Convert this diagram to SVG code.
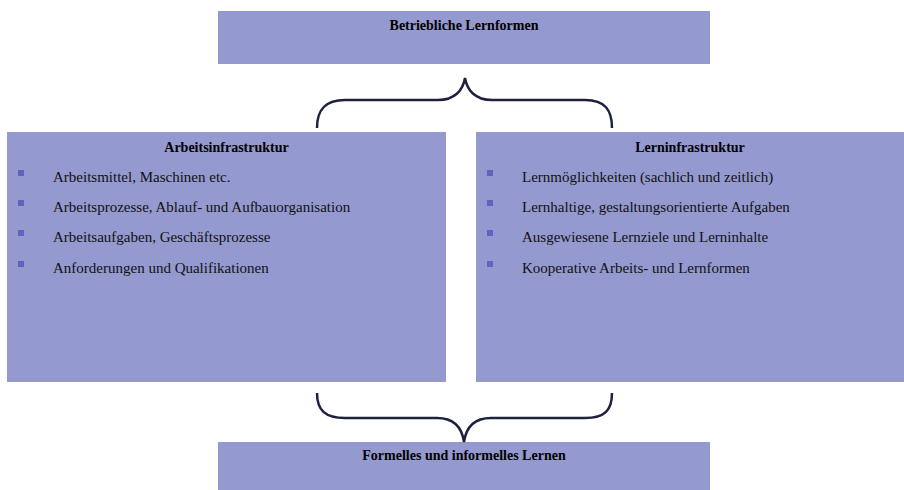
<svg xmlns="http://www.w3.org/2000/svg" width="904" height="490" viewBox="0 0 904 490">
<style>
.box{fill:#9499CF}
.title{font-family:"Liberation Serif",serif;font-weight:bold;font-size:14px;fill:#000;text-anchor:middle}
.item{font-family:"Liberation Serif",serif;font-size:15px;fill:#111}
.bul{fill:#5F64BF}
.brace{fill:none;stroke:#1E2040;stroke-width:2.5;stroke-linecap:butt}
</style>
<rect width="904" height="490" fill="#fff"/>
<g id="top">
<rect class="box" x="218" y="11" width="492" height="53"/>
<text class="title" x="464" y="29.5">Betriebliche Lernformen</text>
</g>
<g id="left">
<rect class="box" x="7" y="132" width="439" height="250"/>
<text class="title" x="226.5" y="151.5">Arbeitsinfrastruktur</text>
<rect class="bul" x="18" y="170" width="6" height="6"/>
<rect class="bul" x="18" y="200" width="6" height="6"/>
<rect class="bul" x="18" y="230" width="6" height="6"/>
<rect class="bul" x="18" y="261" width="6" height="6"/>
<text class="item" x="53" y="181.5">Arbeitsmittel, Maschinen etc.</text>
<text class="item" x="53" y="212">Arbeitsprozesse, Ablauf- und Aufbauorganisation</text>
<text class="item" x="53" y="242">Arbeitsaufgaben, Geschäftsprozesse</text>
<text class="item" x="53" y="272.5">Anforderungen und Qualifikationen</text>
</g>
<g id="right">
<rect class="box" x="476" y="132" width="428" height="250"/>
<text class="title" x="690" y="151.5">Lerninfrastruktur</text>
<rect class="bul" x="487" y="170" width="6" height="6"/>
<rect class="bul" x="487" y="200" width="6" height="6"/>
<rect class="bul" x="487" y="230" width="6" height="6"/>
<rect class="bul" x="487" y="261" width="6" height="6"/>
<text class="item" x="522" y="181.5">Lernmöglichkeiten (sachlich und zeitlich)</text>
<text class="item" x="522" y="212">Lernhaltige, gestaltungsorientierte Aufgaben</text>
<text class="item" x="522" y="242">Ausgewiesene Lernziele und Lerninhalte</text>
<text class="item" x="522" y="272.5">Kooperative Arbeits- und Lernformen</text>
</g>
<g id="bottom">
<rect class="box" x="218" y="442" width="492" height="48"/>
<text class="title" x="464" y="459.5">Formelles und informelles Lernen</text>
</g>
<g id="connectors">
<path class="brace" d="M317,128 C317,110 325,100 345,100 L438,100 C455,100 463,90 465,78 C467,90 475,100 492,100 L585,100 C605,100 612,110 612,128"/>
<path class="brace" d="M317,393 C317,410 325,418 345,418 L437,418 C454,418 462,428 464,442 C466,428 474,418 491,418 L585,418 C605,418 612,410 612,393"/>
</g>
</svg>
